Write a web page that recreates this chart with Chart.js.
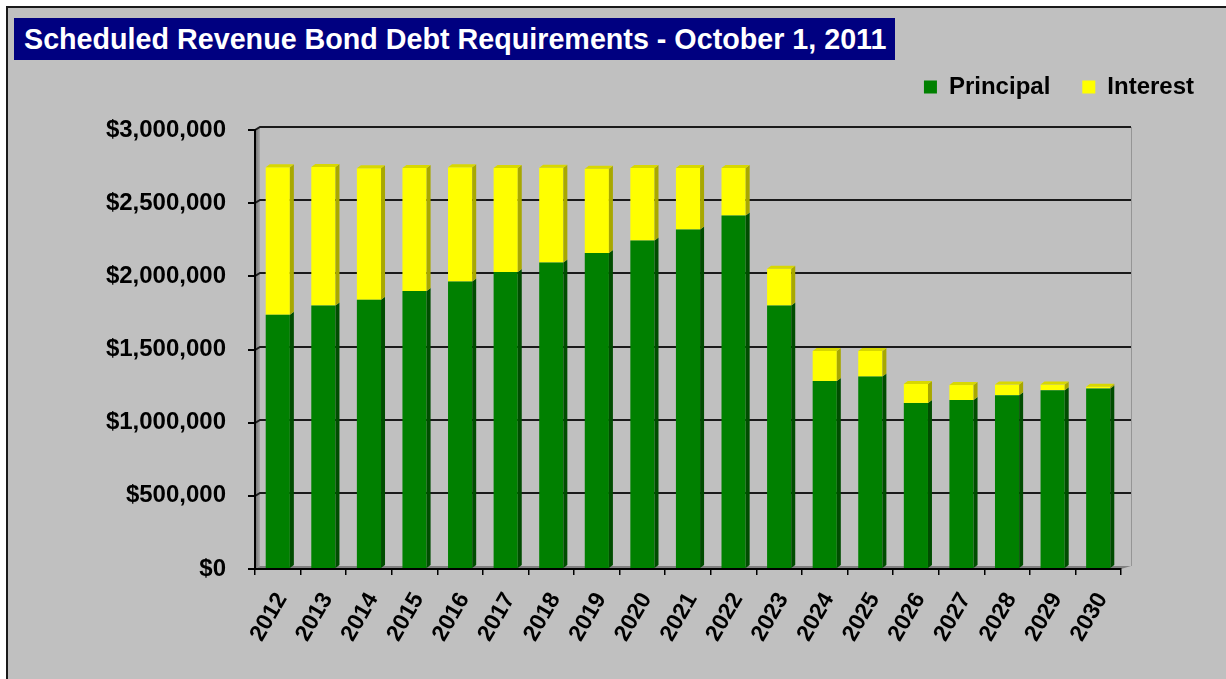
<!DOCTYPE html>
<html><head><meta charset="utf-8">
<script src="https://cdn.jsdelivr.net/npm/chart.js@4"></script>
<style>
html,body{margin:0;padding:0;background:#fff;width:1226px;height:679px;overflow:hidden;}
#frame{position:absolute;left:6px;top:6px;width:1220px;height:673px;background:#C0C0C0;border-left:2px solid #1a1a1a;border-top:2px solid #1a1a1a;box-sizing:border-box;}
#title{position:absolute;left:14px;top:18px;width:881px;height:42px;background:#000080;color:#fff;font:bold 28.7px "Liberation Sans",Arial,sans-serif;line-height:42px;padding-left:10px;box-sizing:border-box;white-space:nowrap;}
canvas{position:absolute;left:0;top:0;}
</style></head><body>
<div id="frame"></div>
<div id="title">Scheduled Revenue Bond Debt Requirements - October 1, 2011</div>
<canvas id="c" width="1226" height="679"></canvas>
<script>
const years = ['2012','2013','2014','2015','2016','2017','2018','2019','2020','2021','2022','2023','2024','2025','2026','2027','2028','2029','2030'];
const principal = [1738000, 1800000, 1840000, 1900000, 1965000, 2030000, 2095000, 2160000, 2245000, 2320000, 2415000, 1800000, 1285000, 1315000, 1135000, 1155000, 1188000, 1222000, 1234000];
const interest = [1007000, 948000, 898000, 840000, 780000, 710000, 647000, 575000, 495000, 420000, 325000, 251000, 205000, 175000, 129000, 102000, 72000, 38000, 12000];
const seriesNames = ['Principal', 'Interest'];
const frontColors = ['#008000', '#FFFF00'];
const sideColors = ['#004d00', '#a8a800'];
const topColors = ['#00a000', '#d8d800'];
const yMin = 0, yMax = 3000000, yStep = 500000;

const FONT = '"Liberation Sans", Arial, sans-serif';
Chart.defaults.font.family = FONT;
Chart.defaults.color = '#000';

const WDX = 5, WDXR = 10, WDY = 3;   // back wall offsets
const BDX = 4, BDY = 3;              // bar depth

const wallPlugin = {
  id: 'wall3d',
  beforeDraw(chart) {
    const {ctx, chartArea: a} = chart;
    const y = chart.scales.y;
    const L = a.left, R = a.right, T = a.top, B = a.bottom;
    ctx.save();
    const g = ctx.createLinearGradient(L, 0, L + WDX, 0);
    g.addColorStop(0, '#6e6e6e'); g.addColorStop(1, '#a8a8a8');
    ctx.fillStyle = g;
    ctx.beginPath(); ctx.moveTo(L, T); ctx.lineTo(L + WDX, T - WDY); ctx.lineTo(L + WDX, B - WDY); ctx.lineTo(L, B); ctx.closePath(); ctx.fill();
    ctx.fillStyle = '#808080';
    ctx.beginPath(); ctx.moveTo(L, B); ctx.lineTo(L + WDX, B - WDY); ctx.lineTo(R + WDXR, B - WDY); ctx.lineTo(R, B); ctx.closePath(); ctx.fill();
    ctx.strokeStyle = '#959595'; ctx.lineWidth = 1;
    ctx.beginPath(); ctx.moveTo(R + WDXR + 0.5, T - WDY); ctx.lineTo(R + WDXR + 0.5, B - WDY); ctx.stroke();
    ctx.strokeStyle = '#1a1a1a'; ctx.lineWidth = 2;
    y.ticks.forEach(t => {
      if (t.value === yMin) return;
      const py = Math.round(y.getPixelForValue(t.value));
      ctx.beginPath(); ctx.moveTo(L, py); ctx.lineTo(L + WDX, py - WDY); ctx.lineTo(R + WDXR, py - WDY); ctx.stroke();
    });
    ctx.restore();
  }
};

const barPlugin = {
  id: 'bar3d',
  afterDatasetsDraw(chart) {
    const ctx = chart.ctx;
    const n = chart.data.datasets.length;
    ctx.save();
    for (let di = 0; di < n; di++) {
      const meta = chart.getDatasetMeta(di);
      meta.data.forEach(el => {
        const p = el.getProps(['x', 'y', 'base', 'width'], true);
        const l = p.x - p.width / 2, r = p.x + p.width / 2;
        const top = Math.min(p.y, p.base), bot = Math.max(p.y, p.base);
        ctx.fillStyle = sideColors[di];
        ctx.beginPath(); ctx.moveTo(r, top); ctx.lineTo(r + BDX, top - BDY); ctx.lineTo(r + BDX, bot - BDY); ctx.lineTo(r, bot); ctx.closePath(); ctx.fill();
        if (di === n - 1) {
          ctx.fillStyle = topColors[di];
          ctx.beginPath(); ctx.moveTo(l, top); ctx.lineTo(l + BDX, top - BDY); ctx.lineTo(r + BDX, top - BDY); ctx.lineTo(r, top); ctx.closePath(); ctx.fill();
        }
      });
    }
    ctx.restore();
  }
};

const LEGEND_TOP = 43, AREA_TOP = 130, AREA_BOTTOM = 569, AREA_LEFT = 255, AREA_RIGHT = 1121;
const legendSize = {
  id: 'legendSize',
  beforeLayout(chart) {
    const lg = chart.legend;
    if (lg && !lg._sized) {
      const f = lg.fit.bind(lg);
      lg.fit = function () { f(); this.height = AREA_TOP - LEGEND_TOP; };
      lg._sized = true;
    }
  }
};

new Chart(document.getElementById('c'), {
  type: 'bar',
  data: {
    labels: years,
    datasets: [
      {label: seriesNames[0], data: principal, backgroundColor: frontColors[0], borderWidth: 0, categoryPercentage: 1, barPercentage: 0.53},
      {label: seriesNames[1], data: interest, backgroundColor: frontColors[1], borderWidth: 0, categoryPercentage: 1, barPercentage: 0.53}
    ]
  },
  options: {
    responsive: false,
    animation: false,
    devicePixelRatio: 1,
    layout: {padding: {top: LEGEND_TOP, left: 0, right: 0, bottom: 0}},
    plugins: {
      title: {display: false},
      tooltip: {enabled: false},
      legend: {
        position: 'top', align: 'end',
        labels: {boxWidth: 13, boxHeight: 13, padding: 32, color: '#000', font: {size: 24, weight: 'bold'}}
      }
    },
    scales: {
      x: {
        stacked: true, offset: true,
        grid: {offset: true, drawOnChartArea: false, drawTicks: true, tickLength: 6, color: '#000', lineWidth: 1.5},
        border: {display: true, color: '#000', width: 2},
        ticks: {maxRotation: 60, minRotation: 60, autoSkip: false, color: '#000', padding: 13, labelOffset: 4, font: {size: 23, weight: 'bold'}},
        afterFit(s) { s.height = 679 - AREA_BOTTOM; }
      },
      y: {
        stacked: true, min: yMin, max: yMax,
        ticks: {stepSize: yStep, color: '#000', padding: 22, font: {size: 24, weight: 'bold'},
          callback: v => '$' + Number(v).toLocaleString('en-US')},
        grid: {drawOnChartArea: false, drawTicks: true, tickLength: 7, color: '#000', lineWidth: 2},
        border: {display: true, color: '#000', width: 2},
        afterFit(s) { s.width = AREA_LEFT; }
      },
      yR: {
        type: 'linear', position: 'right', display: true,
        grid: {display: false}, border: {display: false}, ticks: {display: false},
        afterFit(s) { s.width = 1226 - AREA_RIGHT; }
      }
    }
  },
  plugins: [wallPlugin, barPlugin, legendSize]
});
</script>
</body></html>
